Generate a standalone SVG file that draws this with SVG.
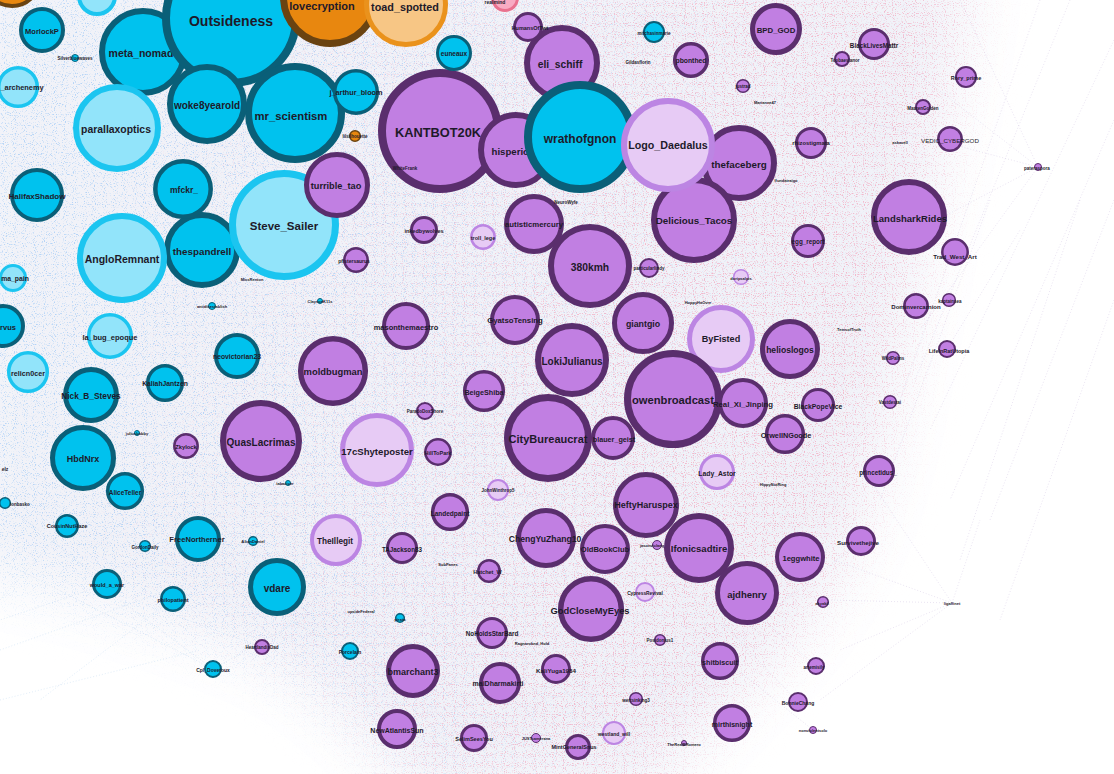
<svg xmlns="http://www.w3.org/2000/svg" width="1114" height="774" viewBox="0 0 1114 774">
<defs>
<style>
.c{fill:#00c2ee;stroke:#0a5f78}
.cl{fill:#92e4fa;stroke:#1bc5f0}
.p{fill:#c17fe2;stroke:#5a2e6d}
.pl{fill:#e7cbf5;stroke:#bc85e3}
.o{fill:#e8870f;stroke:#6a4311}
.ol{fill:#f7c685;stroke:#ea921c}
.pk{fill:#f8abc3;stroke:#e9718f}
text{font-family:"Liberation Sans",Arial,sans-serif;font-weight:bold;fill:#1e1a2a;text-anchor:middle;dominant-baseline:central}
.e{stroke:#b9a6d2;stroke-width:0.6;stroke-dasharray:1 2;opacity:0.5;fill:none}
.eb{stroke:#9cc3e6;stroke-width:0.6;stroke-dasharray:1 2;opacity:0.5;fill:none}
</style>
<filter id="nb" x="0" y="0" width="1114" height="774" filterUnits="userSpaceOnUse">
<feTurbulence type="fractalNoise" baseFrequency="0.9" numOctaves="1" seed="7"/>
<feColorMatrix values="0 0 0 0 0.40 0 0 0 0 0.62 0 0 0 0 0.92 6 0 0 0 -3.35"/>
</filter>
<filter id="nr" x="0" y="0" width="1114" height="774" filterUnits="userSpaceOnUse">
<feTurbulence type="fractalNoise" baseFrequency="0.9" numOctaves="1" seed="23"/>
<feColorMatrix values="0 0 0 0 0.90 0 0 0 0 0.40 0 0 0 0 0.53 6 0 0 0 -3.35"/>
</filter>
<filter id="bl" x="-20%" y="-20%" width="140%" height="140%"><feGaussianBlur stdDeviation="32"/></filter>
<linearGradient id="gB" gradientUnits="userSpaceOnUse" x1="0" y1="0" x2="1114" y2="200">
<stop offset="0" stop-color="#fff"/><stop offset="0.35" stop-color="#e6e6e6"/><stop offset="0.6" stop-color="#666"/><stop offset="0.8" stop-color="#222"/></linearGradient>
<linearGradient id="gR" gradientUnits="userSpaceOnUse" x1="0" y1="0" x2="1114" y2="200">
<stop offset="0.1" stop-color="#000"/><stop offset="0.35" stop-color="#666"/><stop offset="0.6" stop-color="#eee"/><stop offset="1" stop-color="#eee"/></linearGradient>
<path id="blob" d="M-40,-40 L975,-40 C950,120 925,250 900,380 C885,470 865,540 825,600 C775,670 715,720 640,800 L420,800 C360,720 300,670 230,645 C150,615 60,585 -40,570 Z"/>
<mask id="mB" maskUnits="userSpaceOnUse" x="0" y="0" width="1114" height="774">
<use href="#blob" filter="url(#bl)" fill="url(#gB)"/>
</mask>
<mask id="mR" maskUnits="userSpaceOnUse" x="0" y="0" width="1114" height="774">
<use href="#blob" filter="url(#bl)" fill="url(#gR)"/>
</mask>
<mask id="mT" maskUnits="userSpaceOnUse" x="0" y="0" width="1114" height="774">
<use href="#blob" filter="url(#bl)" fill="#fff"/>
</mask>
</defs>
<rect width="1114" height="774" fill="#fff"/>
<g id="connectors">
<rect width="1114" height="774" fill="#f1f2f8" mask="url(#mT)"/>
<g mask="url(#mB)" opacity="0.85"><rect width="1114" height="774" filter="url(#nb)"/></g>
<g mask="url(#mR)" opacity="0.85"><rect width="1114" height="774" filter="url(#nr)"/></g>
<path class="e" d="M1038,167 L900,60 M1038,167 L860,120 M1038,167 L880,250 M1038,167 L960,0 M1038,167 L920,330 M952,603 L834,560 M952,603 L830,600 M952,603 L840,650 M952,603 L980,520 M952,603 L820,700 M952,603 L870,480 M1040,0 L900,400 M1114,40 L930,430 M1080,200 L960,560 M1114,300 L1000,620 M990,200 L880,500 M1070,0 L915,380 M1114,120 L950,500 M1114,200 L990,520 M947,349 L1020,230 M861,541 L760,620 M816,666 L740,600 M813,730 L700,640 M798,702 L720,620 M684,743 L640,640 M614,733 L560,650"/>
<path class="eb" d="M213,669 L120,600 M213,669 L300,620 M213,669 L0,560 M107,584 L0,500 M107,584 L0,620 M173,599 L40,700 M67,526 L0,600 M350,651 L250,600 M262,647 L160,610 M400,618 L330,560 M0,650 L170,590 M0,700 L200,650"/>
</g>
<g id="nodes">
<g id="n-orangeTL"><circle class="o" cx="12" cy="-22" r="28" stroke-width="4"/></g>
<g id="n-cyanTop"><circle class="cl" cx="97" cy="-4" r="18" stroke-width="4"/></g>
<g id="n-meta_nomad"><circle class="c" cx="143" cy="52" r="41" stroke-width="6"/><text x="141" y="53" font-size="10.5">meta_nomad</text></g>
<g id="n-Outsideness"><circle class="c" cx="231" cy="18" r="65" stroke-width="8"/><text x="231" y="21" font-size="14">Outsideness</text></g>
<g id="n-lovecryption"><circle class="o" cx="330" cy="-3" r="46.5" stroke-width="7"/><text x="322" y="6" font-size="11">lovecryption</text></g>
<g id="n-toad_spotted"><circle class="ol" cx="406" cy="5" r="39.5" stroke-width="5"/><text x="405" y="7" font-size="10.8">toad_spotted</text></g>
<g id="n-mr_scientism"><circle class="c" cx="295" cy="113" r="46.5" stroke-width="7"/><text x="291" y="116" font-size="11.3">mr_scientism</text></g>
<g id="n-woke8yearold"><circle class="c" cx="207" cy="104" r="37" stroke-width="6"/><text x="207" y="105" font-size="10">woke8yearold</text></g>
<g id="n-KANTBOT20K"><circle class="p" cx="440" cy="131" r="58" stroke-width="8"/><text x="438" y="132" font-size="12.8">KANTBOT20K</text></g>
<g id="n-hisperic"><circle class="p" cx="516" cy="150" r="35" stroke-width="6"/><text x="510" y="151" font-size="9.6">hisperic</text></g>
<g id="n-eli_schiff"><circle class="p" cx="562" cy="63" r="35" stroke-width="6"/><text x="560" y="64" font-size="10.3">eli_schiff</text></g>
<g id="n-wrathofgnon"><circle class="c" cx="580" cy="137" r="52" stroke-width="8"/><text x="580" y="139" font-size="12">wrathofgnon</text></g>
<g id="n-thefaceberg"><circle class="p" cx="739" cy="163" r="35" stroke-width="6"/><text x="739" y="164" font-size="9.8">thefaceberg</text></g>
<g id="n-Delicious_Tacos"><circle class="p" cx="694" cy="220" r="40" stroke-width="6"/><text x="694" y="220" font-size="9.8">Delicious_Tacos</text></g>
<g id="n-Logo_Daedalus"><circle class="pl" cx="668" cy="145" r="44" stroke-width="6"/><text x="668" y="145" font-size="10.7">Logo_Daedalus</text></g>
<g id="n-parallaxoptics"><circle class="cl" cx="117" cy="128" r="41" stroke-width="6"/><text x="116" y="129" font-size="10.4">parallaxoptics</text></g>
<g id="n-thespandrell"><circle class="c" cx="202" cy="250" r="35" stroke-width="6"/><text x="202" y="251" font-size="9.8">thespandrell</text></g>
<g id="n-Steve_Sailer"><circle class="cl" cx="284" cy="225" r="51.5" stroke-width="7"/><text x="284" y="226" font-size="11.5">Steve_Sailer</text></g>
<g id="n-AngloRemnant"><circle class="cl" cx="122" cy="258" r="42" stroke-width="6"/><text x="122" y="259" font-size="10.5">AngloRemnant</text></g>
<g id="n-mfckr_"><circle class="c" cx="183" cy="189" r="27.7" stroke-width="4.5"/><text x="184" y="190" font-size="8.5">mfckr_</text></g>
<g id="n-HalifaxShadow"><circle class="c" cx="37" cy="195" r="25" stroke-width="4"/><text x="37" y="196" font-size="8">HalifaxShadow</text></g>
<g id="n-MorlockP"><circle class="c" cx="42" cy="30" r="21" stroke-width="4"/><text x="42" y="31" font-size="7.5">MorlockP</text></g>
<g id="n-silver"><circle class="c" cx="75" cy="58" r="3.5" stroke-width="1"/><text x="75" y="58" font-size="4.5">Silverbluewaves</text></g>
<g id="n-_archenemy"><circle class="cl" cx="18" cy="87" r="19.3" stroke-width="3.5"/><text x="22" y="87" font-size="7.4">_archenemy</text></g>
<g id="n-euneaux"><circle class="c" cx="454" cy="53" r="16.5" stroke-width="3"/><text x="454" y="53" font-size="6.5">euneaux</text></g>
<g id="n-j_arthur_bloom"><circle class="c" cx="356" cy="92" r="21.3" stroke-width="3.5"/><text x="356" y="92" font-size="7.3">j_arthur_bloom</text></g>
<g id="n-silhouette"><circle class="o" cx="355" cy="136" r="5.3" stroke-width="1.5"/><text x="355" y="136" font-size="4.5">lilsilhouette</text></g>
<g id="n-WhiteFrank"><text x="405" y="168" font-size="4.5">WhiteFrank</text></g>
<g id="n-turrible_tao"><circle class="p" cx="337" cy="185" r="30.5" stroke-width="5"/><text x="336" y="186" font-size="9.2">turrible_tao</text></g>
<g id="n-autisticmercury"><circle class="p" cx="534" cy="224" r="27.5" stroke-width="5"/><text x="534" y="224" font-size="7.8">autisticmercury</text></g>
<g id="n-inkedbywolves"><circle class="p" cx="424" cy="230" r="12.5" stroke-width="3"/><text x="424" y="231" font-size="5.5">inkedbywolves</text></g>
<g id="n-troll_lege"><circle class="pl" cx="483" cy="237" r="11.7" stroke-width="2.5"/><text x="483" y="238" font-size="5.5">troll_lege</text></g>
<g id="n-pfister"><circle class="p" cx="356" cy="260" r="11.7" stroke-width="2.5"/><text x="354" y="261" font-size="5">pfistersaurus</text></g>
<g id="n-realmind"><circle class="pk" cx="505" cy="-2" r="12.5" stroke-width="3"/><text x="495" y="2" font-size="5">realmind</text></g>
<g id="n-HumansOf"><circle class="p" cx="528" cy="27" r="13.5" stroke-width="3"/><text x="530" y="28" font-size="5.5">HumansOfTwt</text></g>
<g id="n-mitch"><circle class="c" cx="654" cy="32" r="10" stroke-width="2"/><text x="654" y="33" font-size="4.5">mitchasinmarie</text></g>
<g id="n-gildas"><text x="638" y="62" font-size="4.5">Gildasflorin</text></g>
<g id="n-pbonthed"><circle class="p" cx="691" cy="60" r="16.3" stroke-width="3.5"/><text x="691" y="60" font-size="6.8">pbonthed</text></g>
<g id="n-BPD_GOD"><circle class="p" cx="776" cy="29" r="23.5" stroke-width="5"/><text x="776" y="30" font-size="7.8">BPD_GOD</text></g>
<g id="n-justrad"><circle class="p" cx="743" cy="86" r="6.3" stroke-width="1.5"/><text x="743" y="86" font-size="4.5">justrad</text></g>
<g id="n-Miriam"><text x="765" y="102" font-size="4">Marianne47</text></g>
<g id="n-rhizostigmata"><circle class="p" cx="811" cy="143" r="14.5" stroke-width="3"/><text x="811" y="143" font-size="5.8">rhizostigmata</text></g>
<g id="n-lfund"><text x="786" y="180" font-size="4">lfundatraigo</text></g>
<g id="n-egg_report"><circle class="p" cx="808" cy="241" r="15.5" stroke-width="3"/><text x="808" y="241" font-size="6.3">egg_report</text></g>
<g id="n-NeuroWyfe"><text x="566" y="202" font-size="4.5">NeuroWyfe</text></g>
<g id="n-BlackLivesMattr"><circle class="p" cx="874" cy="44" r="14.5" stroke-width="3"/><text x="874" y="45" font-size="6.3">BlackLivesMattr</text></g>
<g id="n-Tgol"><circle class="p" cx="842" cy="59" r="7" stroke-width="2"/><text x="845" y="60" font-size="4.5">Toobaesianor</text></g>
<g id="n-Rory_prime"><circle class="p" cx="966" cy="77" r="10" stroke-width="2"/><text x="966" y="78" font-size="5.5">Rory_prime</text></g>
<g id="n-Maaren"><circle class="p" cx="923" cy="107" r="7" stroke-width="2"/><text x="923" y="108" font-size="4.5">MaarenGolden</text></g>
<g id="n-VEDIC_CYBERGOD"><circle class="p" cx="950" cy="139" r="11.7" stroke-width="2.5"/><text x="950" y="140" font-size="6.2" style="font-weight:normal">VEDIC_CYBERGOD</text><text x="900" y="142" font-size="4">askavell</text></g>
<g id="n-pateraspora"><circle class="p" cx="1038" cy="167" r="3.5" stroke-width="1"/><text x="1037" y="168" font-size="4.5">pateraspora</text></g>
<g id="n-LandsharkRides"><circle class="p" cx="909" cy="217" r="35" stroke-width="6"/><text x="910" y="218" font-size="9.5">LandsharkRides</text></g>
<g id="n-Trad_West_Art"><circle class="p" cx="955" cy="252" r="12.7" stroke-width="2.5"/><text x="955" y="256" font-size="6.2">Trad_West_Art</text></g>
<g id="n-380kmh"><circle class="p" cx="590" cy="266" r="39" stroke-width="6"/><text x="590" y="267" font-size="10.3">380kmh</text></g>
<g id="n-particularlindy"><circle class="p" cx="649" cy="268" r="9" stroke-width="2"/><text x="649" y="268" font-size="4.5">particularlindy</text></g>
<g id="n-doripsalpis"><circle class="pl" cx="741" cy="277" r="7.3" stroke-width="1.5"/><text x="741" y="278" font-size="4">doripsalpis</text></g>
<g id="n-hoppy"><text x="698" y="302" font-size="4">HoppyHaOvre</text></g>
<g id="n-giantgio"><circle class="p" cx="643" cy="323" r="28.5" stroke-width="5"/><text x="643" y="324" font-size="8.8">giantgio</text></g>
<g id="n-ByFisted"><circle class="pl" cx="721" cy="339" r="31.5" stroke-width="5"/><text x="721" y="339" font-size="9.1">ByFisted</text></g>
<g id="n-helioslogos"><circle class="p" cx="790" cy="349" r="27.5" stroke-width="5"/><text x="790" y="350" font-size="8.6">helioslogos</text></g>
<g id="n-LokiJulianus"><circle class="p" cx="572" cy="360" r="34" stroke-width="6"/><text x="572" y="361" font-size="10">LokiJulianus</text></g>
<g id="n-masonthemaestro"><circle class="p" cx="406" cy="326" r="22" stroke-width="4"/><text x="406" y="327" font-size="7.5">masonthemaestro</text></g>
<g id="n-GyatsoTensing"><circle class="p" cx="515" cy="320" r="23" stroke-width="4"/><text x="515" y="320" font-size="7.8">GyatsoTensing</text></g>
<g id="n-moldbugman"><circle class="p" cx="333" cy="371" r="32.3" stroke-width="5.5"/><text x="333" y="371" font-size="9.4">moldbugman</text></g>
<g id="n-BeigeShiba"><circle class="p" cx="484" cy="391" r="19.3" stroke-width="3.5"/><text x="484" y="392" font-size="7.2">BeigeShiba</text></g>
<g id="n-ParadoDoxShore"><circle class="p" cx="425" cy="411" r="8" stroke-width="2"/><text x="425" y="411" font-size="4.5">ParadoDoxShore</text></g>
<g id="n-17cShyteposter"><circle class="pl" cx="377" cy="450" r="34.5" stroke-width="5"/><text x="377" y="451" font-size="9.6">17cShyteposter</text></g>
<g id="n-HillToPark"><circle class="p" cx="438" cy="452" r="12.7" stroke-width="2.5"/><text x="438" y="453" font-size="5.5">HillToPark</text></g>
<g id="n-JohnWinthrop5"><circle class="pl" cx="498" cy="490" r="10" stroke-width="2"/><text x="498" y="490" font-size="4.5">JohnWinthrop5</text></g>
<g id="n-Landedpaint"><circle class="p" cx="450" cy="512" r="17.3" stroke-width="3.5"/><text x="450" y="513" font-size="6.5">Landedpaint</text></g>
<g id="n-owenbroadcast"><circle class="p" cx="673" cy="399" r="45.5" stroke-width="7"/><text x="673" y="400" font-size="11.2">owenbroadcast</text></g>
<g id="n-blauer_geist"><circle class="p" cx="613" cy="438" r="20" stroke-width="4"/><text x="614" y="439" font-size="7.2">blauer_geist</text></g>
<g id="n-CityBureaucrat"><circle class="p" cx="548" cy="438" r="40.5" stroke-width="7"/><text x="548" y="439" font-size="11">CityBureaucrat</text></g>
<g id="n-Real_Xi_Jinping"><circle class="p" cx="743" cy="403" r="23" stroke-width="4"/><text x="743" y="404" font-size="7.8">Real_Xi_Jinping</text></g>
<g id="n-BlackPopeVice"><circle class="p" cx="818" cy="405" r="15.5" stroke-width="3"/><text x="818" y="406" font-size="6.8">BlackPopeVice</text></g>
<g id="n-OrwellNGoode"><circle class="p" cx="785" cy="434" r="18.3" stroke-width="3.5"/><text x="786" y="435" font-size="7.3">OrwellNGoode</text></g>
<g id="n-Lady_Astor"><circle class="pl" cx="717" cy="472" r="16.5" stroke-width="3"/><text x="717" y="473" font-size="6.8">Lady_Astor</text></g>
<g id="n-hippy"><text x="773" y="484" font-size="4">HippyNotRing</text></g>
<g id="n-HeftyHaruspex"><circle class="p" cx="646" cy="505" r="30.5" stroke-width="5"/><text x="646" y="505" font-size="9">HeftyHaruspex</text></g>
<g id="n-Dominvercarnion"><circle class="p" cx="916" cy="306" r="11.7" stroke-width="2.5"/><text x="916" y="307" font-size="6">Dominvercarnion</text></g>
<g id="n-kaptainsea"><circle class="p" cx="949" cy="300" r="6.3" stroke-width="1.5"/><text x="950" y="301" font-size="4.5">kaptainsea</text></g>
<g id="n-TemsofTruth"><text x="849" y="329" font-size="4">TemsofTruth</text></g>
<g id="n-LifeInRatUtopia"><circle class="p" cx="947" cy="349" r="8" stroke-width="2"/><text x="949" y="351" font-size="5.5">LifeInRatUtopia</text></g>
<g id="n-WildPalms"><circle class="p" cx="893" cy="358" r="6.3" stroke-width="1.5"/><text x="893" y="358" font-size="4.5">WildPalms</text></g>
<g id="n-Vastdestai"><circle class="p" cx="890" cy="402" r="6.3" stroke-width="1.5"/><text x="890" y="402" font-size="4.5">Vastdestai</text></g>
<g id="n-princetidus_"><circle class="p" cx="879" cy="471" r="14.5" stroke-width="3"/><text x="878" y="472" font-size="6.3">princetidus_</text></g>
<g id="n-TheIllegit"><circle class="pl" cx="336" cy="540" r="24" stroke-width="4"/><text x="335" y="541" font-size="8.2">TheIllegit</text></g>
<g id="n-TAJackson83"><circle class="p" cx="402" cy="548" r="14.5" stroke-width="3"/><text x="402" y="549" font-size="6.3">TAJackson83</text></g>
<g id="n-SubPanes"><text x="448" y="564" font-size="4">SubPanes</text></g>
<g id="n-Hatchet_W_"><circle class="p" cx="489" cy="571" r="10.7" stroke-width="2.5"/><text x="489" y="572" font-size="5.5">Hatchet_W_</text></g>
<g id="n-OldBookClub"><circle class="p" cx="605" cy="549" r="23" stroke-width="4"/><text x="605" y="549" font-size="7.6">OldBookClub</text></g>
<g id="n-ChengYuZhang10"><circle class="p" cx="546" cy="538" r="27.5" stroke-width="5"/><text x="545" y="539" font-size="8.6">ChengYuZhang10</text></g>
<g id="n-NoHoldsStarBard"><circle class="p" cx="492" cy="633" r="14.5" stroke-width="3"/><text x="492" y="633" font-size="6.3">NoHoldsStarBard</text></g>
<g id="n-Ragnarok"><text x="532" y="643" font-size="4">Ragnaroknd_Hold</text></g>
<g id="n-bmarchant3"><circle class="p" cx="413" cy="671" r="24.5" stroke-width="5"/><text x="413" y="672" font-size="9">bmarchant3</text></g>
<g id="n-KaliYuga1984"><circle class="p" cx="556" cy="669" r="13.5" stroke-width="3"/><text x="556" y="670" font-size="6.2">KaliYuga1984</text></g>
<g id="n-maiDharmakirti"><circle class="p" cx="500" cy="683" r="19" stroke-width="4"/><text x="498" y="683" font-size="7">maiDharmakirti</text></g>
<g id="n-NewAtlantisSun"><circle class="p" cx="397" cy="729" r="18" stroke-width="4"/><text x="397" y="730" font-size="7">NewAtlantisSun</text></g>
<g id="n-SelimSeesYou"><circle class="p" cx="474" cy="738" r="12.5" stroke-width="3"/><text x="474" y="739" font-size="5.5">SelimSeesYou</text></g>
<g id="n-JUST"><circle class="p" cx="536" cy="738" r="4.5" stroke-width="1"/><text x="536" y="738" font-size="4">JUSTcamerana</text></g>
<g id="n-MintGeneralSnus"><circle class="p" cx="578" cy="747" r="11.5" stroke-width="3"/><text x="574" y="747" font-size="5.5">MintGeneralSnus</text></g>
<g id="n-jason"><circle class="p" cx="657" cy="545" r="4.5" stroke-width="1"/><text x="652" y="545" font-size="4">jasonviclang</text></g>
<g id="n-Ifonicsadtire"><circle class="p" cx="699" cy="548" r="32" stroke-width="6"/><text x="699" y="548" font-size="9.5">Ifonicsadtire</text></g>
<g id="n-1eggwhite"><circle class="p" cx="800" cy="557" r="23" stroke-width="4"/><text x="801" y="558" font-size="7.6">1eggwhite</text></g>
<g id="n-ajdhenry"><circle class="p" cx="747" cy="593" r="29.5" stroke-width="5"/><text x="747" y="594" font-size="9.5">ajdhenry</text></g>
<g id="n-CypressRevival"><circle class="pl" cx="645" cy="592" r="9" stroke-width="2"/><text x="645" y="593" font-size="4.8">CypressRevival</text></g>
<g id="n-GodCloseMyEyes"><circle class="p" cx="591" cy="609" r="30.3" stroke-width="5.5"/><text x="590" y="610" font-size="9.4">GodCloseMyEyes</text></g>
<g id="n-akyakil"><circle class="p" cx="823" cy="602" r="5.3" stroke-width="1.5"/><text x="822" y="603" font-size="4">akyakil</text></g>
<g id="n-Posidonius1"><circle class="p" cx="660" cy="640" r="5.3" stroke-width="1.5"/><text x="660" y="640" font-size="4.5">Posidonius1</text></g>
<g id="n-shitbiscuit"><circle class="p" cx="720" cy="661" r="17.3" stroke-width="3.5"/><text x="720" y="662" font-size="7.2">shitbiscuit</text></g>
<g id="n-artemisily"><circle class="p" cx="816" cy="666" r="8" stroke-width="2"/><text x="814" y="667" font-size="4.5">artemisily</text></g>
<g id="n-wertsinking3"><circle class="p" cx="636" cy="699" r="6.3" stroke-width="1.5"/><text x="636" y="700" font-size="4.5">wertsinking3</text></g>
<g id="n-BonnieChang"><circle class="p" cx="798" cy="702" r="9" stroke-width="2"/><text x="798" y="703" font-size="5">BonnieChang</text></g>
<g id="n-mirthisnight"><circle class="p" cx="732" cy="723" r="17.3" stroke-width="3.5"/><text x="732" y="724" font-size="7">mirthisnight</text></g>
<g id="n-westland_will"><circle class="pl" cx="614" cy="733" r="11" stroke-width="2"/><text x="614" y="734" font-size="5">westland_will</text></g>
<g id="n-TheRealBRomero"><circle class="p" cx="684" cy="743" r="2.5" stroke-width="1"/><text x="684" y="744" font-size="4">TheRealBRomero</text></g>
<g id="n-nonviolentsolo"><circle class="p" cx="813" cy="730" r="3.5" stroke-width="1"/><text x="813" y="730" font-size="4">nonviolentsolo</text></g>
<g id="n-Survivethejive"><circle class="p" cx="861" cy="541" r="13.5" stroke-width="3"/><text x="858" y="542" font-size="6.2">Survivethejive</text></g>
<g id="n-ligalfinet"><text x="952" y="603" font-size="4">ligalfinet</text></g>
<g id="n-QuasLacrimas"><circle class="p" cx="261" cy="441" r="38" stroke-width="6"/><text x="261" y="442" font-size="10">QuasLacrimas</text></g>
<g id="n-la_bug_epoque"><circle class="cl" cx="110" cy="336" r="21.3" stroke-width="3.5"/><text x="110" y="337" font-size="7.5">la_bug_epoque</text></g>
<g id="n-relicn0cer"><circle class="cl" cx="28" cy="372" r="19.3" stroke-width="3.5"/><text x="28" y="373" font-size="7.2">relicn0cer</text></g>
<g id="n-ma_pain"><circle class="cl" cx="13" cy="278" r="12.5" stroke-width="3"/><text x="15" y="278" font-size="6.8">ma_pain</text></g>
<g id="n-rvus"><circle class="c" cx="3" cy="326" r="20" stroke-width="4"/><text x="8" y="327" font-size="7.5">rvus</text></g>
<g id="n-Nick_B_Steves"><circle class="c" cx="91" cy="395" r="25.5" stroke-width="5"/><text x="91" y="396" font-size="8.3">Nick_B_Steves</text></g>
<g id="n-KaliahJantzen"><circle class="c" cx="165" cy="383" r="17.3" stroke-width="3.5"/><text x="165" y="383" font-size="6.8">KaliahJantzen</text></g>
<g id="n-neovictorian23"><circle class="c" cx="237" cy="356" r="21" stroke-width="4"/><text x="237" y="356" font-size="6.8">neovictorian23</text></g>
<g id="n-antidis"><circle class="c" cx="212" cy="306" r="3.5" stroke-width="1"/><text x="212" y="306" font-size="4">antidisestablish</text></g>
<g id="n-MissRenton"><text x="252" y="279" font-size="4">MissRenton</text></g>
<g id="n-ClaysonK11s"><circle class="c" cx="320" cy="301" r="2.5" stroke-width="1"/><text x="320" y="301" font-size="4">ClaysonK11s</text></g>
<g id="n-HbdNrx"><circle class="c" cx="83" cy="458" r="30.5" stroke-width="5"/><text x="83" y="459" font-size="9">HbdNrx</text></g>
<g id="n-juliusbobby"><circle class="c" cx="137" cy="433" r="2.5" stroke-width="1"/><text x="137" y="433" font-size="4">juliusbobby</text></g>
<g id="n-Zkylock"><circle class="p" cx="186" cy="446" r="11.7" stroke-width="2.5"/><text x="186" y="447" font-size="5.8">Zkylock</text></g>
<g id="n-iabacicer"><circle class="c" cx="288" cy="483" r="2.5" stroke-width="1"/><text x="285" y="483" font-size="4">iabacicer</text></g>
<g id="n-AliceTeller"><circle class="c" cx="125" cy="491" r="17.3" stroke-width="3.5"/><text x="125" y="492" font-size="6.5">AliceTeller</text></g>
<g id="n-elz"><text x="5" y="469" font-size="5">elz</text></g>
<g id="n-ionbasko"><circle class="c" cx="5" cy="503" r="5.3" stroke-width="1.5"/><text x="20" y="504" font-size="4.5">ionbasko</text></g>
<g id="n-CousinNutHaze"><circle class="c" cx="67" cy="526" r="10.7" stroke-width="2.5"/><text x="67" y="526" font-size="5.5">CousinNutHaze</text></g>
<g id="n-GordonDaily"><circle class="c" cx="145" cy="546" r="5.3" stroke-width="1.5"/><text x="145" y="547" font-size="4.5">GordonDaily</text></g>
<g id="n-FreeNortherner"><circle class="c" cx="198" cy="539" r="21" stroke-width="4"/><text x="197" y="539" font-size="7.6">FreeNortherner</text></g>
<g id="n-AltonDaniel"><circle class="c" cx="253" cy="541" r="4.3" stroke-width="1.5"/><text x="253" y="541" font-size="4.2">AltonDaniel</text></g>
<g id="n-vdare"><circle class="c" cx="277" cy="587" r="26.5" stroke-width="5"/><text x="277" y="588" font-size="10">vdare</text></g>
<g id="n-would_a_war"><circle class="c" cx="107" cy="584" r="13.5" stroke-width="3"/><text x="107" y="585" font-size="5.5">would_a_war</text></g>
<g id="n-philopatient"><circle class="c" cx="173" cy="599" r="11.7" stroke-width="2.5"/><text x="173" y="600" font-size="5.5">philopatient</text></g>
<g id="n-HeartlandisDad"><circle class="p" cx="262" cy="647" r="7" stroke-width="2"/><text x="262" y="647" font-size="4.5">HeartlandisDad</text></g>
<g id="n-Cpl_Dovetoux"><circle class="c" cx="213" cy="669" r="8" stroke-width="2"/><text x="213" y="670" font-size="5">Cpl_Dovetoux</text></g>
<g id="n-upsideFederal"><text x="361" y="611" font-size="4">upsideFederal</text></g>
<g id="n-pirata"><circle class="c" cx="400" cy="618" r="4.3" stroke-width="1.5"/><text x="400" y="619" font-size="4">pirata</text></g>
<g id="n-Porcelain"><circle class="c" cx="350" cy="651" r="8" stroke-width="2"/><text x="350" y="652" font-size="5">Porcelain</text></g>
</g>
</svg>
